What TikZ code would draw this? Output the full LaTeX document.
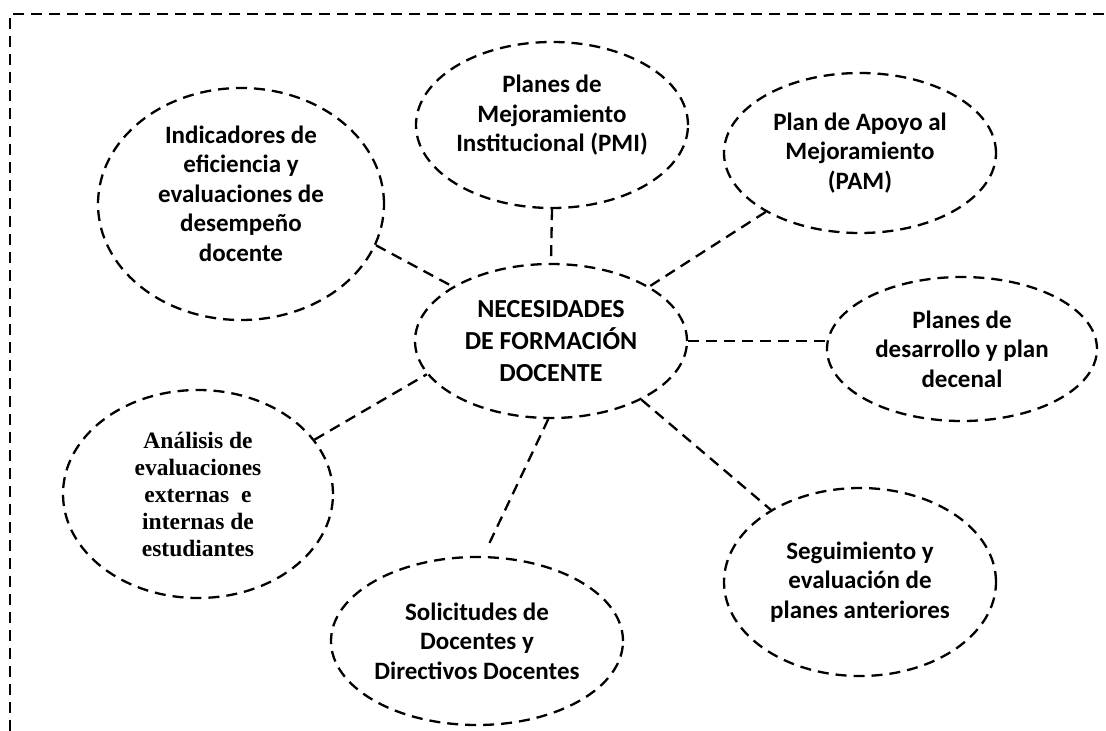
\documentclass[tikz,border=0pt]{standalone}
\usepackage{fontspec}
\setmainfont{Carlito}
\newfontfamily\timesf{Liberation Serif}
\usetikzlibrary{shapes.geometric}
\tikzset{
  dsh/.style={line width=2.3pt, dash pattern=on 11pt off 7pt},
  bub/.style={dsh, draw, ellipse, inner sep=0pt, align=center,
              font=\bfseries\fontsize{25}{29.5}\selectfont},
  link/.style={dsh}
}
\begin{document}
\begin{tikzpicture}[x=1pt,y=-1pt]
\useasboundingbox (0,0) rectangle (1106,731);
\draw[dsh] (10,731) -- (10,14) -- (1106,14);

\node[bub, minimum width=272pt, minimum height=154pt,
      font=\bfseries\fontsize{26}{32}\selectfont] (cen) at (551,341)
  {NECESIDADES\\DE FORMACIÓN\\DOCENTE};

\node[bub, minimum width=286pt, minimum height=232pt] (ind) at (241,204)
  {Indicadores de\\eficiencia y\\evaluaciones de\\desempeño\\docente\\[-8pt]\mbox{}};
\node[bub, minimum width=272pt, minimum height=166pt] (pmi) at (552,125)
  {Planes de\\Mejoramiento\\Institucional (PMI)\\[-6pt]\mbox{}};
\node[bub, minimum width=272pt, minimum height=160pt] (pam) at (860,153)
  {Plan de Apoyo al\\Mejoramiento\\(PAM)};
\node[bub, minimum width=270pt, minimum height=144pt] (des) at (962,349)
  {Planes de\\desarrollo y plan\\decenal};
\node[bub, minimum width=272pt, minimum height=188pt] (seg) at (860,582)
  {Seguimiento y\\evaluación de\\planes anteriores};
\node[bub, minimum width=292pt, minimum height=168pt] (sol) at (477,641)
  {Solicitudes de\\Docentes y\\Directivos Docentes};
\node[bub, minimum width=270pt, minimum height=208pt,
      font=\timesf\bfseries\fontsize{23.5}{27}\selectfont] (ana) at (198,494)
  {Análisis de\\evaluaciones\\externas~ e\\internas de\\estudiantes};

\draw[link] (ind.-17) -- (cen.151);
\draw[link] (pmi.south) -- (cen.north);
\draw[link] (pam.-148) -- (cen.29);
\draw[link] (cen.east) -- (cen.east -| des.west);
\draw[link] (cen.-33) -- (seg.141);
\draw[link] (cen.-92) -- ([yshift=12pt]sol.82);
\draw[link] (ana.25) -- (cen.195);
\end{tikzpicture}
\end{document}
